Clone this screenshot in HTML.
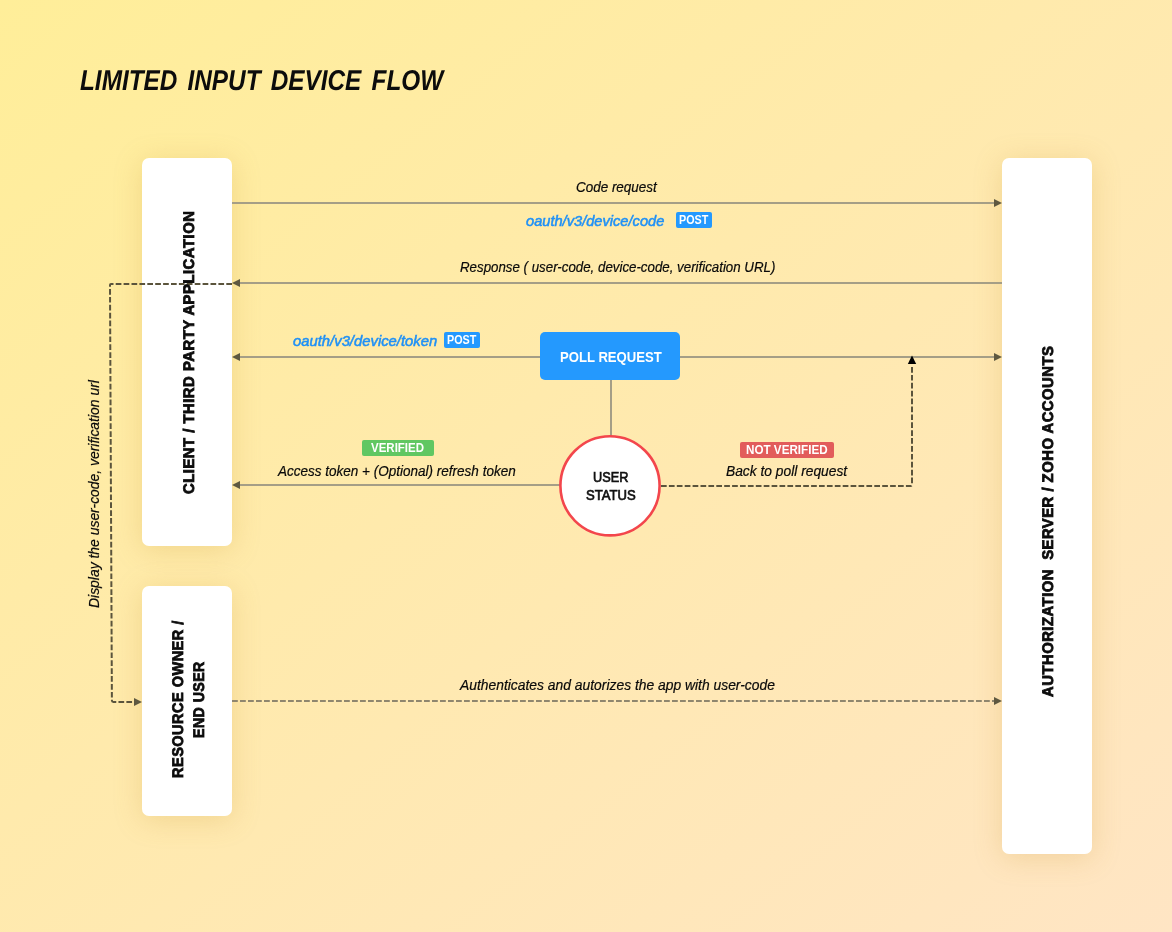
<!DOCTYPE html>
<html><head><meta charset="utf-8">
<style>
html,body{margin:0;padding:0;}
body{width:1172px;height:932px;overflow:hidden;position:relative;font-family:"Liberation Sans",sans-serif;
background:linear-gradient(to bottom right,#FFEE99,#FFE5C4);}
.box{position:absolute;background:#fff;border-radius:7px;box-shadow:0 4px 28px rgba(200,150,50,.25);}
.t{position:absolute;white-space:pre;line-height:20px;transform-origin:0 0;}
.badge{position:absolute;border-radius:2px;}
svg{position:absolute;left:0;top:0;}
#root{position:absolute;left:0;top:0;width:1172px;height:932px;will-change:transform;}
</style></head><body><div id="root">
<div class="box" style="left:142px;top:158px;width:90px;height:388px;"></div>
<div class="box" style="left:142px;top:586px;width:90px;height:230px;"></div>
<div class="box" style="left:1002px;top:158px;width:90px;height:696px;"></div>

<svg width="1172" height="932" viewBox="0 0 1172 932">
 <g stroke="#a59e86" stroke-width="2" fill="none">
  <line x1="232" y1="203" x2="995" y2="203"/>
  <line x1="1002" y1="283" x2="239" y2="283"/>
  <line x1="540" y1="357" x2="239" y2="357"/>
  <line x1="680" y1="357" x2="995" y2="357"/>
  <line x1="560" y1="485" x2="239" y2="485"/>
  <line x1="611" y1="380" x2="611" y2="436"/>
  <path d="M232 701 H994" stroke="#8f866e" stroke-dasharray="5.8 2.2"/>
 </g>
 <g stroke="#5b543c" stroke-width="2" fill="none" stroke-dasharray="5.7 2.2">
  <path d="M232 284 H111 Q110 284 110 285 L111.9 700.5 Q111.9 702 113.4 702 H134"/>
  <path d="M661 486 H910.5 Q912 486 912 484.5 V365"/>
 </g>
 <g fill="#5e5840">
  <path d="M1002 203 l-8 -4 v8z"/>
  <path d="M232 283 l8 -4 v8z"/>
  <path d="M232 357 l8 -4 v8z"/>
  <path d="M1002 357 l-8 -4 v8z"/>
  <path d="M232 485 l8 -4 v8z"/>
  <path d="M142 702 l-8 -4 v8z"/>
  <path d="M1002 701 l-8 -4 v8z"/>
 </g>
 <path d="M912 355.6 l-4.2 8.4 h8.4z" fill="#000"/>
 <rect x="540" y="332" width="140" height="48" rx="5" fill="#2499FE"/>
 <circle cx="610" cy="485.8" r="49.6" fill="#fff" stroke="#F3464C" stroke-width="2.6"/>
</svg>

<div class="badge" style="left:676px;top:212px;width:36px;height:16px;background:#2499FE;"></div>
<div class="badge" style="left:444px;top:332px;width:36px;height:16px;background:#2499FE;"></div>
<div class="badge" style="left:362px;top:440px;width:72px;height:16px;background:#60C762;"></div>
<div class="badge" style="left:740px;top:442px;width:94px;height:16px;background:#E25C5B;"></div>
<div class="t" id="title" style="font-size:28.6px;font-weight:bold;font-style:italic;color:#0c0c0c;left:80.36px;top:70.09px;transform:translateY(0.5px) scaleX(0.8513);word-spacing:4px;text-rendering:geometricPrecision;">LIMITED INPUT DEVICE FLOW</div>
<div class="t" id="code" style="font-size:14px;font-weight:normal;font-style:italic;color:#0a0a0a;left:576.28px;top:177.15px;transform:scaleX(0.9606);-webkit-text-stroke:0.2px #0a0a0a;">Code request</div>
<div class="t" id="resp" style="font-size:14px;font-weight:normal;font-style:italic;color:#0a0a0a;left:460.03px;top:257.15px;transform:scaleX(0.9499);-webkit-text-stroke:0.2px #0a0a0a;">Response ( user-code, device-code, verification URL)</div>
<div class="t" id="url1" style="font-size:14px;font-weight:normal;font-style:italic;color:#1f90f6;left:525.76px;top:210.65px;transform:scaleX(1.0452);-webkit-text-stroke:0.5px #1f90f6;">oauth/v3/device/code</div>
<div class="t" id="url2" style="font-size:14px;font-weight:normal;font-style:italic;color:#1f90f6;left:292.52px;top:331.15px;transform:scaleX(1.0589);-webkit-text-stroke:0.5px #1f90f6;">oauth/v3/device/token</div>
<div class="t" id="access" style="font-size:14px;font-weight:normal;font-style:italic;color:#0a0a0a;left:277.88px;top:460.90px;transform:scaleX(0.9651);-webkit-text-stroke:0.2px #0a0a0a;">Access token + (Optional) refresh token</div>
<div class="t" id="back" style="font-size:14px;font-weight:normal;font-style:italic;color:#0a0a0a;left:725.96px;top:460.90px;transform:scaleX(0.9852);-webkit-text-stroke:0.2px #0a0a0a;">Back to poll request</div>
<div class="t" id="auth" style="font-size:14px;font-weight:normal;font-style:italic;color:#0a0a0a;left:460.25px;top:675.15px;transform:scaleX(0.9901);-webkit-text-stroke:0.2px #0a0a0a;">Authenticates and autorizes the app with user-code</div>
<div class="t" id="poll" style="font-size:14px;font-weight:bold;font-style:normal;color:#fff;left:559.61px;top:346.95px;transform:scaleX(0.9372);">POLL REQUEST</div>
<div class="t" id="user" style="font-size:14px;font-weight:normal;font-style:normal;color:#111;left:593.03px;top:466.55px;transform:scaleX(0.9076);-webkit-text-stroke:0.7px #111;">USER</div>
<div class="t" id="status" style="font-size:14px;font-weight:normal;font-style:normal;color:#111;left:586.04px;top:484.95px;transform:scaleX(0.9351);-webkit-text-stroke:0.7px #111;">STATUS</div>
<div class="t" id="post1" style="font-size:12px;font-weight:bold;font-style:normal;color:#fff;left:679.18px;top:209.84px;transform:scaleX(0.8979);">POST</div>
<div class="t" id="post2" style="font-size:12px;font-weight:bold;font-style:normal;color:#fff;left:447.18px;top:329.84px;transform:scaleX(0.8979);">POST</div>
<div class="t" id="ver" style="font-size:12px;font-weight:bold;font-style:normal;color:#fff;left:370.51px;top:437.84px;transform:scaleX(0.9576);">VERIFIED</div>
<div class="t" id="nver" style="font-size:12px;font-weight:bold;font-style:normal;color:#fff;left:746.07px;top:439.84px;transform:scaleX(0.9720);">NOT VERIFIED</div>
<div class="t" id="client" style="font-size:15.4px;font-weight:bold;font-style:normal;color:#0c0c0c;left:180.04px;top:493.83px;transform:rotate(-90deg) scale(0.9662,1);text-rendering:geometricPrecision;letter-spacing:0.5px;-webkit-text-stroke:0.8px #0c0c0c;">CLIENT / THIRD PARTY APPLICATION</div>
<div class="t" id="server" style="font-size:15.4px;font-weight:bold;font-style:normal;color:#0c0c0c;left:1038.96px;top:696.52px;transform:rotate(-90deg) scale(0.9640,1);text-rendering:geometricPrecision;letter-spacing:0.5px;-webkit-text-stroke:0.8px #0c0c0c;">AUTHORIZATION  SERVER / ZOHO ACCOUNTS</div>
<div class="t" id="res1" style="font-size:15.4px;font-weight:bold;font-style:normal;color:#0c0c0c;left:168.84px;top:778.30px;transform:rotate(-90deg) scale(0.9445,1);text-rendering:geometricPrecision;letter-spacing:0.5px;-webkit-text-stroke:0.8px #0c0c0c;">RESOURCE OWNER /</div>
<div class="t" id="res2" style="font-size:15.4px;font-weight:bold;font-style:normal;color:#0c0c0c;left:190.36px;top:738.17px;transform:rotate(-90deg) scale(0.9194,1);text-rendering:geometricPrecision;letter-spacing:0.5px;-webkit-text-stroke:0.8px #0c0c0c;">END USER</div>
<div class="t" id="disp" style="font-size:14px;font-weight:normal;font-style:italic;color:#0a0a0a;left:83.85px;top:608.05px;transform:rotate(-90deg) scale(0.9938,1);-webkit-text-stroke:0.2px #0a0a0a;">Display the user-code, verification url</div>
</div></body></html>
